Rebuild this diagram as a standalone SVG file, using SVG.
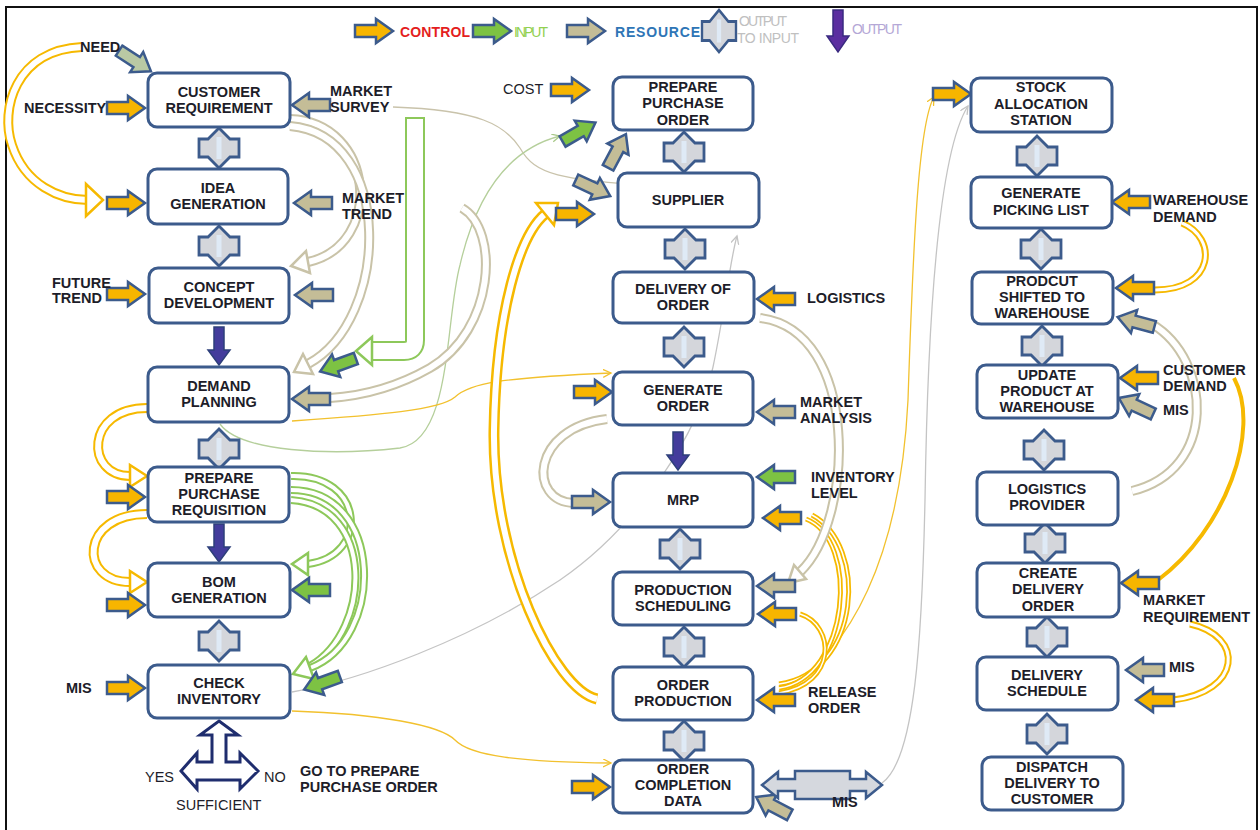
<svg xmlns="http://www.w3.org/2000/svg" xmlns:xlink="http://www.w3.org/1999/xlink" width="1260" height="830" viewBox="0 0 1260 830">
<style>
.bx{fill:#fff;stroke:#3c5b8c;stroke-width:3}
.t{font-family:"Liberation Sans",Arial,sans-serif;font-weight:bold;font-size:14.5px;fill:#1d1d29}
.tc{text-anchor:middle}
.r{font-weight:normal}
.y{fill:#f7b500}
.g{fill:#7dc243}
.n{fill:#c4bd97}
.s{fill:#b9c9a4}
.lg{font-family:"Liberation Sans",Arial,sans-serif;font-size:14px}
.yo{fill:none;stroke:#f6b900;stroke-width:10}
.no{fill:none;stroke:#c9c3a8;stroke-width:10}
.go{fill:none;stroke:#8dc85a;stroke-width:8}
.wi{fill:none;stroke:#fff;stroke-width:6}
.wi4{fill:none;stroke:#fff;stroke-width:4}
.yh{fill:#fff;stroke:#f6b900;stroke-width:2.5}
.nh{fill:#fff;stroke:#c9c3a8;stroke-width:2.5}
.gh{fill:#fff;stroke:#8dc85a;stroke-width:2.5}
.thin{fill:none;stroke-width:1.3}
</style>
<defs>
<path id="ar" d="M-19,-6 H2 V-12 L19,0 L2,12 V6 H-19 Z" stroke="#3c5b8c" stroke-width="2.5"/>
<g id="cr"><path d="M0,-20 L11,-9 H20 V9 H11 L0,20 L-11,9 H-20 V-9 H-11 Z" fill="#d4d6db" stroke="#3c5b8c" stroke-width="2.8"/><path d="M0,-11 V11" stroke="#dfeaf6" stroke-width="5"/></g>
<path id="pd" d="M-5,-19 H5 V4 H11 L0,19 L-11,4 H-5 Z" fill="#433c9c" stroke="#2d3f7a" stroke-width="1.5"/>
<marker id="mN" markerWidth="10" markerHeight="10" refX="8" refY="4" orient="auto" markerUnits="userSpaceOnUse"><path d="M0,0 L8,4 L0,8" fill="none" stroke="#c9c3ab" stroke-width="1.3"/></marker>
<marker id="mG" markerWidth="10" markerHeight="10" refX="8" refY="4" orient="auto" markerUnits="userSpaceOnUse"><path d="M0,0 L8,4 L0,8" fill="none" stroke="#a9c98a" stroke-width="1.3"/></marker>
<marker id="mR" markerWidth="10" markerHeight="10" refX="8" refY="4" orient="auto" markerUnits="userSpaceOnUse"><path d="M0,0 L8,4 L0,8" fill="none" stroke="#c4c4c4" stroke-width="1.3"/></marker>
<marker id="mY" markerWidth="10" markerHeight="10" refX="8" refY="4" orient="auto" markerUnits="userSpaceOnUse"><path d="M0,0 L8,4 L0,8" fill="none" stroke="#f2c12e" stroke-width="1.3"/></marker>
</defs>
<rect x="0" y="0" width="1260" height="830" fill="#fff"/>
<rect x="6" y="7" width="1251" height="830" fill="none" stroke="#111" stroke-width="2"/>

<g id="legend">
<use href="#ar" class="y" transform="translate(374,31)"/>
<text class="lg" x="400" y="37" fill="#e41e1e" textLength="70" font-weight="bold">CONTROL</text>
<use href="#ar" class="g" transform="translate(492,31)"/>
<text class="lg" x="514" y="37" fill="#92d050" textLength="34">INPUT</text>
<use href="#ar" class="n" transform="translate(586,31)"/>
<text class="lg" x="615" y="37" fill="#2e75b6" textLength="85" font-weight="bold">RESOURCE</text>
<use href="#cr" transform="translate(719,31) scale(0.85,1.05)"/>
<text class="lg" x="739" y="26" fill="#c0c0c0" font-size="13" textLength="48">OUTPUT</text>
<text class="lg" x="737" y="43" fill="#c0c0c0" font-size="13" textLength="62">TO INPUT</text>
<path d="M-5,-21 H5 V5 H11 L0,21 L-11,5 H-5 Z" fill="#5b2ea0" stroke="#3a2a80" stroke-width="1.5" transform="translate(838,31)"/>
<text class="lg" x="852" y="34" fill="#b4a7d6" font-size="13" textLength="50">OUTPUT</text>
</g>

<g id="connectors">
<!-- thin lines -->
<path class="thin" stroke="#c9c3ab" marker-end="url(#mN)" d="M393,107 C480,110 505,125 520,148 C535,175 560,180 657,186"/>
<path class="thin" stroke="#b5cf9b" marker-end="url(#mG)" d="M220,424 C240,452 330,456 400,448 C452,440 445,320 460,265 C475,200 505,150 560,136"/>
<path class="thin" stroke="#c4c4c4" marker-end="url(#mR)" d="M292,692 C360,680 470,640 560,580 C640,525 700,430 713,367 C725,310 730,260 737,236"/>
<path class="thin" stroke="#f2c12e" marker-end="url(#mY)" d="M292,421 C380,415 440,410 455,397 C470,383 500,378 611,373"/>
<path class="thin" stroke="#f2c12e" marker-end="url(#mY)" d="M292,711 C380,714 440,725 455,740 C470,756 520,762 611,763"/>
<path class="thin" stroke="#f2c12e" marker-end="url(#mY)" d="M782,694 C850,650 900,560 908,400 C913,250 918,125 934,97"/>
<path class="thin" stroke="#c4c4c4" marker-end="url(#mR)" d="M882,783 C915,760 922,640 925,500 C928,300 940,150 968,106"/>

<!-- yellow outline curves -->
<path class="yo" d="M82,47 C15,50 0,110 12,145 C25,185 60,200 88,200"/>
<path class="wi" d="M82,47 C15,50 0,110 12,145 C25,185 60,200 88,200"/>
<polygon class="yh" points="86,184 103,200 86,216"/>
<path class="yo" d="M147,408 C85,408 85,476 130,476"/>
<path class="wi" d="M147,408 C85,408 85,476 130,476"/>
<polygon class="yh" points="130,465 147,476 130,487"/>
<path class="yo" d="M147,514 C80,514 78,582 130,582"/>
<path class="wi" d="M147,514 C80,514 78,582 130,582"/>
<polygon class="yh" points="130,571 147,582 130,593"/>

<path class="yo" style="stroke-width:11" d="M597,699 C555,690 492,560 494,430 C496,310 520,235 545,214"/>
<path class="wi" d="M597,699 C555,690 492,560 494,430 C496,310 520,235 545,214"/>
<polygon class="yh" points="554,225 558,203 536,203"/>

<path class="yo" style="stroke-width:5" d="M779,684 C862,672 868,545 812,515"/>
<path class="wi" style="stroke-width:1.5" d="M779,684 C862,672 868,545 812,515"/>
<path class="yo" style="stroke-width:5" d="M779,688 C850,678 860,540 806,519"/>
<path class="wi" style="stroke-width:1.5" d="M779,688 C850,678 860,540 806,519"/>
<path class="yo" style="stroke-width:5" d="M779,693 C838,684 835,625 800,614"/>
<path class="wi" style="stroke-width:1.5" d="M779,693 C838,684 835,625 800,614"/>

<path class="yo" style="stroke-width:7" d="M1182,223 C1218,238 1215,290 1155,290"/>
<path class="wi" style="stroke-width:3" d="M1182,223 C1218,238 1215,290 1155,290"/>
<path class="yo" style="stroke-width:4" d="M1234,378 C1262,430 1225,530 1158,580"/>
<path class="yo" style="stroke-width:7" d="M1190,624 C1245,636 1242,692 1173,700"/>
<path class="wi" style="stroke-width:3" d="M1190,624 C1245,636 1242,692 1173,700"/>

<!-- tan outline curves -->
<path class="no" d="M290,119 C375,122 385,245 308,262"/>
<path class="wi" d="M290,119 C375,122 385,245 308,262"/>
<polygon class="nh" points="310,273 291,266 306,251"/>
<path class="no" d="M290,126 C395,135 390,320 308,364"/>
<path class="wi" d="M290,126 C395,135 390,320 308,364"/>
<polygon class="nh" points="313,374 294,372 303,354"/>
<path class="no" d="M462,208 C500,230 495,330 430,368 C395,388 360,396 330,398"/>
<path class="wi" d="M462,208 C500,230 495,330 430,368 C395,388 360,396 330,398"/>
<path class="no" d="M760,318 C860,330 855,520 800,572"/>
<path class="wi" d="M760,318 C860,330 855,520 800,572"/>
<polygon class="nh" points="806,579 788,583 794,565"/>
<path class="no" d="M607,419 C530,428 528,502 574,503"/>
<path class="wi" d="M607,419 C530,428 528,502 574,503"/>
<path class="no" d="M1132,491 C1218,470 1212,360 1152,324"/>
<path class="wi" d="M1132,491 C1218,470 1212,360 1152,324"/>

<!-- green outline curves -->
<path class="go" d="M291,476 C365,474 370,556 308,564"/>
<path class="wi4" d="M291,476 C365,474 370,556 308,564"/>
<polygon class="gh" points="308,553 292,564 308,575"/>
<path class="go" d="M291,500 C375,505 372,630 310,666"/>
<path class="wi4" d="M291,500 C375,505 372,630 310,666"/>
<path class="go" d="M291,490 C385,490 385,640 310,668"/>
<path class="wi4" d="M291,490 C385,490 385,640 310,668"/>
<polygon class="gh" points="306,657 293,674 314,679"/>
<path fill="none" stroke="#8dc85a" stroke-width="20" stroke-linejoin="round" d="M415,118 V340 Q415,351 404,351 H372"/>
<path fill="none" stroke="#fff" stroke-width="16" stroke-linejoin="round" d="M415,118 V340 Q415,351 404,351 H372"/>
<path stroke="#8dc85a" stroke-width="2" d="M405,118 H425"/>
<polygon class="gh" points="372,337 356,351 372,365"/>

<!-- grey output-to-input crosses -->
<use href="#cr" transform="translate(219,148)"/>
<use href="#cr" transform="translate(219,246)"/>
<use href="#cr" transform="translate(219,449)"/>
<use href="#cr" transform="translate(219,641)"/>
<use href="#cr" transform="translate(684,152)"/>
<use href="#cr" transform="translate(685,249)"/>
<use href="#cr" transform="translate(684,347)"/>
<use href="#cr" transform="translate(680,549)"/>
<use href="#cr" transform="translate(684,647)"/>
<use href="#cr" transform="translate(684,741)"/>
<use href="#cr" transform="translate(1037,156)"/>
<use href="#cr" transform="translate(1041,249)"/>
<use href="#cr" transform="translate(1042,346)"/>
<use href="#cr" transform="translate(1044,450)"/>
<use href="#cr" transform="translate(1045,543)"/>
<use href="#cr" transform="translate(1047,637)"/>
<use href="#cr" transform="translate(1047,734)"/>

<!-- purple output arrows -->
<use href="#pd" transform="translate(219,346)"/>
<use href="#pd" transform="translate(219,543)"/>
<use href="#pd" transform="translate(678,451)"/>

<!-- control arrows (yellow) -->
<use href="#ar" class="y" transform="translate(126,108)"/>
<use href="#ar" class="y" transform="translate(126,203)"/>
<use href="#ar" class="y" transform="translate(126,294)"/>
<use href="#ar" class="y" transform="translate(126,497)"/>
<use href="#ar" class="y" transform="translate(126,605)"/>
<use href="#ar" class="y" transform="translate(126,688)"/>
<use href="#ar" class="y" transform="translate(570,90)"/>
<use href="#ar" class="y" transform="translate(575,214)"/>
<use href="#ar" class="y" transform="translate(593,392)"/>
<use href="#ar" class="y" transform="translate(591,787)"/>
<use href="#ar" class="y" transform="translate(952,94)"/>
<use href="#ar" class="y" transform="translate(776,299) rotate(180)"/>
<use href="#ar" class="y" transform="translate(782,518) rotate(180)"/>
<use href="#ar" class="y" transform="translate(777,614) rotate(180)"/>
<use href="#ar" class="y" transform="translate(776,700) rotate(180)"/>
<use href="#ar" class="y" transform="translate(1131,202) rotate(180)"/>
<use href="#ar" class="y" transform="translate(1135,288) rotate(180)"/>
<use href="#ar" class="y" transform="translate(1139,378) rotate(180)"/>
<use href="#ar" class="y" transform="translate(1140,583) rotate(180)"/>
<use href="#ar" class="y" transform="translate(1155,700) rotate(180)"/>

<!-- resource arrows (tan) -->
<use href="#ar" class="n" transform="translate(311,105) rotate(180)"/>
<use href="#ar" class="n" transform="translate(313,203) rotate(180)"/>
<use href="#ar" class="n" transform="translate(314,295) rotate(180)"/>
<use href="#ar" class="n" transform="translate(311,399) rotate(180)"/>
<use href="#ar" class="n" transform="translate(776,412) rotate(180)"/>
<use href="#ar" class="n" transform="translate(776,586) rotate(180)"/>
<use href="#ar" class="n" transform="translate(1145,670) rotate(180)"/>
<use href="#ar" class="n" transform="translate(617,151) rotate(-62)"/>
<use href="#ar" class="n" transform="translate(593,188) rotate(25)"/>
<use href="#ar" class="n" transform="translate(591,502)"/>
<use href="#ar" class="n" transform="translate(773,806) rotate(208)"/>
<use href="#ar" class="n" transform="translate(1136,322) rotate(195)"/>
<use href="#ar" class="n" transform="translate(1136,406) rotate(205)"/>
<use href="#ar" class="s" transform="translate(135,61) rotate(33)"/>

<!-- input arrows (green) -->
<use href="#ar" class="g" transform="translate(338,365) rotate(160)"/>
<use href="#ar" class="g" transform="translate(311,590) rotate(180)"/>
<use href="#ar" class="g" transform="translate(322,683) rotate(160)"/>
<use href="#ar" class="g" transform="translate(579,132) rotate(-30)"/>
<use href="#ar" class="g" transform="translate(776,477) rotate(180)"/>

<!-- MIS double arrow -->
<polygon points="762,785 778,772 778,779 795,779 795,771 850,771 850,779 866,779 866,772 882,785 866,798 866,791 850,791 850,799 795,799 795,791 778,791 778,798" fill="#d5d8de" stroke="#3c5b8c" stroke-width="2.5"/>

<!-- decision T -->
<polygon points="219,721 238,735 226,735 226,762 240,762 240,753 258,771 240,789 240,780 197,780 197,789 181,771 197,753 197,762 212,762 212,735 200,735" fill="#fff" stroke="#1f2d6e" stroke-width="3" stroke-linejoin="miter"/>
</g>

<g id="n-customer-requirement"><rect class="bx" x="148" y="73" width="142" height="54" rx="9"/><text class="t tc" x="219" y="97">CUSTOMER</text><text class="t tc" x="219" y="113">REQUIREMENT</text></g>
<g id="n-idea-generation"><rect class="bx" x="148" y="169" width="140" height="55" rx="9"/><text class="t tc" x="218" y="193">IDEA</text><text class="t tc" x="218" y="209">GENERATION</text></g>
<g id="n-concept-development"><rect class="bx" x="149" y="268" width="140" height="55" rx="9"/><text class="t tc" x="219" y="292">CONCEPT</text><text class="t tc" x="219" y="308">DEVELOPMENT</text></g>
<g id="n-demand-planning"><rect class="bx" x="148" y="367" width="141" height="55" rx="9"/><text class="t tc" x="219" y="391">DEMAND</text><text class="t tc" x="219" y="407">PLANNING</text></g>
<g id="n-prepare-purchase-requisition"><rect class="bx" x="148" y="467" width="141" height="55" rx="9"/><text class="t tc" x="219" y="483">PREPARE</text><text class="t tc" x="219" y="499">PURCHASE</text><text class="t tc" x="219" y="515">REQUISITION</text></g>
<g id="n-bom-generation"><rect class="bx" x="148" y="563" width="142" height="54" rx="9"/><text class="t tc" x="219" y="587">BOM</text><text class="t tc" x="219" y="603">GENERATION</text></g>
<g id="n-check-inventory"><rect class="bx" x="148" y="665" width="142" height="53" rx="9"/><text class="t tc" x="219" y="688">CHECK</text><text class="t tc" x="219" y="704">INVENTORY</text></g>

<g id="n-prepare-purchase-order"><rect class="bx" x="613" y="77" width="140" height="53" rx="9"/><text class="t tc" x="683" y="92">PREPARE</text><text class="t tc" x="683" y="108">PURCHASE</text><text class="t tc" x="683" y="125">ORDER</text></g>
<g id="n-supplier"><rect class="bx" x="618" y="173" width="141" height="54" rx="9"/><text class="t tc" x="688" y="205">SUPPLIER</text></g>
<g id="n-delivery-of-order"><rect class="bx" x="613" y="272" width="141" height="51" rx="9"/><text class="t tc" x="683" y="294">DELIVERY OF</text><text class="t tc" x="683" y="310">ORDER</text></g>
<g id="n-generate-order"><rect class="bx" x="613" y="372" width="140" height="53" rx="9"/><text class="t tc" x="683" y="395">GENERATE</text><text class="t tc" x="683" y="411">ORDER</text></g>
<g id="n-mrp"><rect class="bx" x="613" y="473" width="140" height="54" rx="9"/><text class="t tc" x="683" y="505">MRP</text></g>
<g id="n-production-scheduling"><rect class="bx" x="613" y="572" width="140" height="53" rx="9"/><text class="t tc" x="683" y="595">PRODUCTION</text><text class="t tc" x="683" y="611">SCHEDULING</text></g>
<g id="n-order-production"><rect class="bx" x="613" y="667" width="140" height="53" rx="9"/><text class="t tc" x="683" y="690">ORDER</text><text class="t tc" x="683" y="706">PRODUCTION</text></g>
<g id="n-order-completion-data"><rect class="bx" x="613" y="760" width="140" height="53" rx="9"/><text class="t tc" x="683" y="774">ORDER</text><text class="t tc" x="683" y="790">COMPLETION</text><text class="t tc" x="683" y="806">DATA</text></g>

<g id="n-stock-allocation-station"><rect class="bx" x="971" y="78" width="141" height="54" rx="9"/><text class="t tc" x="1041" y="92">STOCK</text><text class="t tc" x="1041" y="109">ALLOCATION</text><text class="t tc" x="1041" y="125">STATION</text></g>
<g id="n-generate-picking-list"><rect class="bx" x="971" y="177" width="141" height="51" rx="9"/><text class="t tc" x="1041" y="198">GENERATE</text><text class="t tc" x="1041" y="215">PICKING LIST</text></g>
<g id="n-product-shifted"><rect class="bx" x="972" y="272" width="141" height="52" rx="9"/><text class="t tc" x="1042" y="286">PRODCUT</text><text class="t tc" x="1042" y="302">SHIFTED TO</text><text class="t tc" x="1042" y="318">WAREHOUSE</text></g>
<g id="n-update-product"><rect class="bx" x="977" y="365" width="141" height="53" rx="9"/><text class="t tc" x="1047" y="380">UPDATE</text><text class="t tc" x="1047" y="396">PRODUCT AT</text><text class="t tc" x="1047" y="412">WAREHOUSE</text></g>
<g id="n-logistics-provider"><rect class="bx" x="977" y="472" width="141" height="53" rx="9"/><text class="t tc" x="1047" y="494">LOGISTICS</text><text class="t tc" x="1047" y="510">PROVIDER</text></g>
<g id="n-create-delivery-order"><rect class="bx" x="977" y="563" width="142" height="54" rx="9"/><text class="t tc" x="1048" y="578">CREATE</text><text class="t tc" x="1048" y="594">DELIVERY</text><text class="t tc" x="1048" y="611">ORDER</text></g>
<g id="n-delivery-schedule"><rect class="bx" x="977" y="657" width="141" height="53" rx="9"/><text class="t tc" x="1047" y="680">DELIVERY</text><text class="t tc" x="1047" y="696">SCHEDULE</text></g>
<g id="n-dispatch"><rect class="bx" x="982" y="757" width="141" height="53" rx="9"/><text class="t tc" x="1052" y="772">DISPATCH</text><text class="t tc" x="1052" y="788">DELIVERY TO</text><text class="t tc" x="1052" y="804">CUSTOMER</text></g>

<g id="labels">
<text class="t" x="80" y="52">NEED</text>
<text class="t" x="24" y="113">NECESSITY</text>
<text class="t" x="330" y="96">MARKET</text><text class="t" x="330" y="112">SURVEY</text>
<text class="t" x="342" y="203">MARKET</text><text class="t" x="342" y="219">TREND</text>
<text class="t" x="52" y="288">FUTURE</text><text class="t" x="52" y="303">TREND</text>
<text class="t" x="66" y="693">MIS</text>
<text class="t r" x="145" y="782">YES</text>
<text class="t r" x="264" y="782">NO</text>
<text class="t r" x="176" y="810">SUFFICIENT</text>
<text class="t" x="300" y="776">GO TO PREPARE</text>
<text class="t" x="300" y="792">PURCHASE ORDER</text>
<text class="t r" x="503" y="94">COST</text>
<text class="t" x="807" y="303">LOGISTICS</text>
<text class="t" x="800" y="407">MARKET</text><text class="t" x="800" y="423">ANALYSIS</text>
<text class="t" x="811" y="482">INVENTORY</text><text class="t" x="811" y="498">LEVEL</text>
<text class="t" x="808" y="697">RELEASE</text><text class="t" x="808" y="713">ORDER</text>
<text class="t" x="832" y="807">MIS</text>
<text class="t" x="1153" y="205">WAREHOUSE</text><text class="t" x="1153" y="222">DEMAND</text>
<text class="t" x="1163" y="375">CUSTOMER</text><text class="t" x="1163" y="391">DEMAND</text>
<text class="t" x="1163" y="415">MIS</text>
<text class="t" x="1143" y="605">MARKET</text><text class="t" x="1143" y="622">REQUIREMENT</text>
<text class="t" x="1169" y="672">MIS</text>
</g>
</svg>
